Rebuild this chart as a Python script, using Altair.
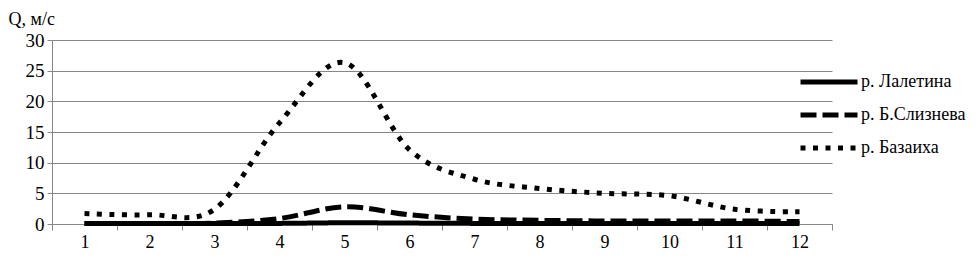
import altair as alt
import pandas as pd

months = list(range(1, 13))
series_names = ["р. Лалетина", "р. Б.Слизнева", "р. Базаиха"]
laletina = [0.1, 0.1, 0.1, 0.1, 0.2, 0.15, 0.1, 0.1, 0.1, 0.1, 0.1, 0.1]
slizneva = [0.1, 0.1, 0.15, 0.9, 2.8, 1.5, 0.8, 0.6, 0.5, 0.5, 0.5, 0.4]
bazaikha = [1.7, 1.5, 2.4, 16.5, 26.3, 12.1, 7.3, 5.8, 5.0, 4.6, 2.4, 2.0]
y_ticks = [0, 5, 10, 15, 20, 25, 30]
x_ticks = [v / 2 for v in range(1, 26)]

rows = []
for name, vals in zip(series_names, [laletina, slizneva, bazaikha]):
    for m, v in zip(months, vals):
        rows.append({"month": m, "Q": v, "series": name})
df = pd.DataFrame(rows)

FONT = "Liberation Serif, Times New Roman, serif"

chart = alt.Chart(df).mark_line(
    color="black", strokeWidth=5, interpolate="cardinal", strokeCap="butt"
).encode(
    x=alt.X(
        "month:Q",
        scale=alt.Scale(domain=[0.5, 12.5], nice=False, zero=False),
        axis=alt.Axis(
            title=None,
            values=x_ticks,
            grid=False,
            labelExpr="datum.value % 1 === 0 ? datum.value : ''",
            tickOpacity={"condition": {"test": "datum.value % 1 === 0", "value": 0}, "value": 1},
            tickSize=6,
            tickColor="#868686",
            domainColor="#868686",
            labelFont=FONT,
            labelFontSize=18,
            labelColor="black",
            labelPadding=3,
        ),
    ),
    y=alt.Y(
        "Q:Q",
        scale=alt.Scale(domain=[0, 30], nice=False),
        axis=alt.Axis(
            title="Q, м/с",
            titleAngle=0,
            titleX=-44,
            titleY=-16,
            titleAlign="left",
            titleBaseline="alphabetic",
            titleFont=FONT,
            titleFontSize=18,
            titleFontWeight="normal",
            titleColor="black",
            values=y_ticks,
            gridColor="#868686",
            gridWidth=1,
            domainColor="#868686",
            tickColor="#868686",
            tickSize=5,
            labelFont=FONT,
            labelFontSize=19,
            labelColor="black",
            labelPadding=3,
        ),
    ),
    strokeDash=alt.StrokeDash(
        "series:N",
        scale=alt.Scale(domain=series_names, range=[[1, 0], [16, 6], [5, 7.5]]),
        legend=alt.Legend(
            title=None,
            orient="none",
            legendX=746,
            legendY=27,
            symbolType="stroke",
            symbolSize=3249,
            symbolStrokeWidth=5,
            symbolStrokeColor="black",
            labelFont=FONT,
            labelFontSize=18,
            labelColor="black",
            labelOffset=1,
            clipHeight=30,
            rowPadding=3,
        ),
    ),
).properties(
    width=780,
    height=184,
    autosize=alt.AutoSizeParams(type="none"),
    padding={"left": 44, "top": 32, "right": 139, "bottom": 27},
).configure_view(stroke=None)

chart.save("out.html", embed_options={"renderer": "svg", "actions": False})
